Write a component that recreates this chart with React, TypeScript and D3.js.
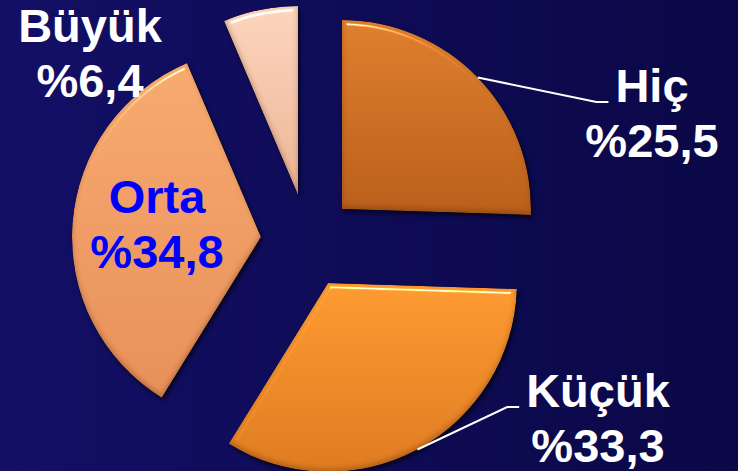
import React, { useEffect, useRef } from 'react';
import * as d3 from 'd3';

// ── Data ──────────────────────────────────────────────────────────────
const categories = ['Hiç', 'Küçük', 'Orta', 'Büyük'];
const shares = [25.5, 33.3, 34.8, 6.4];
const shareLabels = ['%25,5', '%33,3', '%34,8', '%6,4'];

// ── Layout / style ────────────────────────────────────────────────────
const WIDTH = 738;
const HEIGHT = 471;
const CENTER: [number, number] = [300, 240];
const RADIUS = 189;
// how far each slice is pulled out of the pie (px)
const explode: [number, number][] = [
    [42, -31],
    [28, 43],
    [-39, -3],
    [-2, -45],
];
const sliceColors: [string, string][] = [
    ['#de7e2d', '#b95f1b'],
    ['#fd9a31', '#de7b21'],
    ['#f6aa6e', '#e78f5a'],
    ['#fbd4bb', '#ecb497'],
];
const labelColors = ['#ffffff', '#ffffff', '#0000ff', '#ffffff'];
// label block centre x and first baseline y
const labelAnchors: [number, number][] = [
    [652, 102],
    [598, 407],
    [157, 213],
    [90, 42],
];
const hasLeader = [true, true, false, false];

const App = () => {
    const svgRef = useRef<SVGSVGElement>(null);

    useEffect(() => {
        const svg = d3.select(svgRef.current);
        svg.selectAll('*').remove();

        const defs = svg.append('defs');

        const bg = defs
            .append('linearGradient')
            .attr('id', 'bg')
            .attr('x1', 0)
            .attr('y1', 0)
            .attr('x2', 1)
            .attr('y2', 0);
        bg.append('stop').attr('offset', '0%').attr('stop-color', '#130f66');
        bg.append('stop').attr('offset', '100%').attr('stop-color', '#0a0846');

        sliceColors.forEach(([top, bottom], i) => {
            const g = defs
                .append('linearGradient')
                .attr('id', `slice${i}`)
                .attr('x1', 0)
                .attr('y1', 0)
                .attr('x2', 0)
                .attr('y2', 1);
            g.append('stop').attr('offset', '0%').attr('stop-color', top);
            g.append('stop').attr('offset', '100%').attr('stop-color', bottom);
        });

        // bevel (light from the top) + soft drop shadow
        const f = defs
            .append('filter')
            .attr('id', 'bevel')
            .attr('color-interpolation-filters', 'sRGB')
            .attr('x', '-10%')
            .attr('y', '-10%')
            .attr('width', '125%')
            .attr('height', '125%');
        f.append('feGaussianBlur')
            .attr('in', 'SourceAlpha')
            .attr('stdDeviation', 2.5)
            .attr('result', 'blur');
        f.append('feSpecularLighting')
            .attr('in', 'blur')
            .attr('surfaceScale', 5)
            .attr('specularConstant', 0.9)
            .attr('specularExponent', 60)
            .attr('lighting-color', '#ffffff')
            .attr('result', 'spec')
            .append('feDistantLight')
            .attr('azimuth', 260)
            .attr('elevation', 40);
        f.append('feComposite')
            .attr('in', 'spec')
            .attr('in2', 'SourceAlpha')
            .attr('operator', 'in')
            .attr('result', 'specIn');
        // darker rim at the lower edges
        f.append('feOffset')
            .attr('in', 'blur')
            .attr('dx', 0)
            .attr('dy', -3)
            .attr('result', 'up');
        f.append('feComposite')
            .attr('in', 'SourceAlpha')
            .attr('in2', 'up')
            .attr('operator', 'out')
            .attr('result', 'rimA');
        f.append('feFlood')
            .attr('flood-color', '#5a2a05')
            .attr('flood-opacity', 0.35);
        f.append('feComposite')
            .attr('in2', 'rimA')
            .attr('operator', 'in')
            .attr('result', 'rim');
        f.append('feMerge')
            .attr('result', 'shaded')
            .call((m) => {
                m.append('feMergeNode').attr('in', 'SourceGraphic');
                m.append('feMergeNode').attr('in', 'rim');
            });
        f.append('feComposite')
            .attr('in', 'shaded')
            .attr('in2', 'specIn')
            .attr('operator', 'arithmetic')
            .attr('k1', 0)
            .attr('k2', 1)
            .attr('k3', 0.9)
            .attr('k4', 0)
            .attr('result', 'lit');
        f.append('feComposite')
            .attr('in', 'lit')
            .attr('in2', 'SourceAlpha')
            .attr('operator', 'in')
            .attr('result', 'litIn');
        f.append('feGaussianBlur')
            .attr('in', 'SourceAlpha')
            .attr('stdDeviation', 2)
            .attr('result', 'sblur');
        f.append('feOffset')
            .attr('in', 'sblur')
            .attr('dx', 2)
            .attr('dy', 3)
            .attr('result', 'soff');
        f.append('feComponentTransfer')
            .attr('in', 'soff')
            .attr('result', 'shadow')
            .append('feFuncA')
            .attr('type', 'linear')
            .attr('slope', 0.6);
        const merge = f.append('feMerge');
        merge.append('feMergeNode').attr('in', 'shadow');
        merge.append('feMergeNode').attr('in', 'litIn');

        svg.append('rect')
            .attr('width', WIDTH)
            .attr('height', HEIGHT)
            .attr('fill', 'url(#bg)');

        const pie = d3
            .pie<number>()
            .sort(null)
            .value((d) => d)(shares);

        const arc = d3
            .arc<d3.PieArcDatum<number>>()
            .innerRadius(0)
            .outerRadius(RADIUS);

        const edge = d3
            .arc<d3.PieArcDatum<number>>()
            .innerRadius(RADIUS)
            .outerRadius(RADIUS);

        const slices = svg
            .append('g')
            .selectAll('g')
            .data(pie)
            .join('g')
            .attr(
                'transform',
                (_d, i) =>
                    `translate(${CENTER[0] + explode[i][0]},${CENTER[1] + explode[i][1]})`,
            );

        slices
            .append('path')
            .attr('d', arc)
            .attr('fill', (_d, i) => `url(#slice${i})`)
            .attr('filter', 'url(#bevel)');

        const leaderLayer = svg.append('g');

        // ── Labels ─────────────────────────────────────────────────────
        const labels = svg
            .append('g')
            .attr('text-anchor', 'middle')
            .style('font-family', '"Liberation Sans", Arial, sans-serif')
            .style('font-weight', 'bold')
            .style('font-size', '47px')
            .selectAll('text')
            .data(categories)
            .join('text')
            .attr('fill', (_d, i) => labelColors[i])
            .attr('x', (_d, i) => labelAnchors[i][0])
            .attr('y', (_d, i) => labelAnchors[i][1]);

        const firstLines = labels
            .append('tspan')
            .attr('x', (_d, i) => labelAnchors[i][0])
            .text((d) => d);
        labels
            .append('tspan')
            .attr('x', (_d, i) => labelAnchors[i][0])
            .attr('dy', 55)
            .text((_d, i) => shareLabels[i]);

        // ── Leader lines (end just left of the category name) ──────────
        const nameWidths = firstLines
            .nodes()
            .map((n) => (n as SVGTSpanElement).getComputedTextLength());

        pie.forEach((d, i) => {
            if (!hasLeader[i]) return;
            const [ex, ey] = edge.centroid(d);
            const sx = CENTER[0] + explode[i][0] + ex;
            const sy = CENTER[1] + explode[i][1] + ey;
            const [lx, ly] = labelAnchors[i];
            const endX = lx - nameWidths[i] / 2 - 7;
            leaderLayer
                .append('polyline')
                .attr('points', `${sx},${sy} ${endX - 12},${ly} ${endX},${ly}`)
                .attr('fill', 'none')
                .attr('stroke', '#ffffff')
                .attr('stroke-width', 2);
        });
    }, []);

    return (
        <svg
            ref={svgRef}
            width={WIDTH}
            height={HEIGHT}
            style={{ position: 'fixed', left: 0, top: 0 }}
        />
    );
};

export default App;
